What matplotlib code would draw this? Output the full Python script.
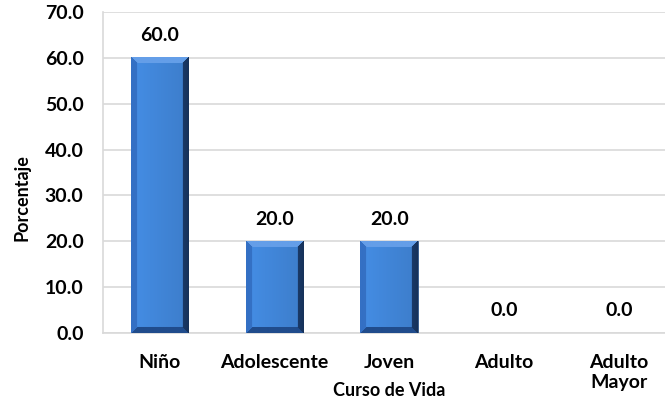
import numpy as np
import matplotlib.pyplot as plt

# data
categorias = ['Niño', 'Adolescente', 'Joven', 'Adulto', 'Adulto\nMayor']
porcentaje = [60.0, 20.0, 20.0, 0.0, 0.0]
yticks = [0, 10, 20, 30, 40, 50, 60, 70]

plt.rcParams['font.family'] = ['Lato', 'DejaVu Sans']
plt.rcParams['font.weight'] = 'bold'


def bevel_image(wpx, hpx):
    # rough imitation of the bevelled excel bars
    base = np.array([66, 136, 220]) / 255
    left = np.array([52, 112, 196]) / 255
    right = np.array([26, 58, 105]) / 255
    top = np.array([100, 158, 232]) / 255
    bottom = np.array([32, 76, 140]) / 255
    bw = 6.5
    yy, xx = np.mgrid[0:hpx, 0:wpx]
    dl = xx + 0.5
    dr = wpx - xx - 0.5
    dt = yy + 0.5
    db = hpx - yy - 0.5
    # face gets a soft left-to-right shading
    t = (xx / max(wpx - 1, 1))[..., None]
    img = base * (1.04 - 0.12 * t)
    d = np.stack([dl, dr, dt, db])
    which = d.argmin(axis=0)
    near = d.min(axis=0) < bw
    depth = (d.min(axis=0) / bw)[..., None]
    for k, c in enumerate([left, right, top, bottom]):
        m = (which == k) & near
        shade = c * (0.85 + 0.15 * depth) if k == 1 else c
        img[m] = shade[m] if shade.ndim == 3 else shade
    return np.clip(img, 0, 1)


fig = plt.figure(figsize=(6.65, 4.03), dpi=100)
ax = fig.add_axes([103 / 665, (403 - 333) / 403, 1 - 103 / 665, (333 - 12) / 403])

x = np.arange(len(categorias))
ax.set_xlim(-0.49, 4.40)
ax.set_ylim(0, 70)
bars = ax.bar(x, porcentaje, width=0.5, color='#4288dc', edgecolor='#2a4f80',
              linewidth=0.6, zorder=3)

for b in bars:
    h = b.get_height()
    if h <= 0:
        continue
    p0 = ax.transData.transform((b.get_x(), 0))
    p1 = ax.transData.transform((b.get_x() + b.get_width(), h))
    wpx = int(round(p1[0] - p0[0]))
    hpx = int(round(p1[1] - p0[1]))
    ax.imshow(bevel_image(wpx, hpx), aspect='auto', interpolation='bilinear',
              extent=(b.get_x(), b.get_x() + b.get_width(), 0, h), zorder=3.5)

ax.set_xlim(-0.49, 4.40)
ax.set_ylim(0, 70)

for xi, v in zip(x, porcentaje):
    ax.annotate(f'{v:.1f}', (xi, v), xytext=(0, 12), textcoords='offset points',
                ha='center', va='baseline', fontsize=14, fontweight='bold')

ax.set_yticks(yticks)
ax.set_yticklabels([f'{t:.1f}' for t in yticks])
ax.set_xticks(x)
ax.set_xticklabels(categorias, linespacing=1.2)
ax.tick_params(axis='both', length=0, labelsize=14)
ax.tick_params(axis='y', pad=14)
ax.tick_params(axis='x', pad=15)
for lab in ax.get_xticklabels() + ax.get_yticklabels():
    lab.set_fontweight('bold')
ax.yaxis.grid(True, color='#d9d9d9', linewidth=1.2, zorder=0)
ax.set_axisbelow(True)
for s in ['top', 'right']:
    ax.spines[s].set_visible(False)
ax.spines['left'].set_color('#d9d9d9')
ax.spines['bottom'].set_color('#d9d9d9')
ax.spines['left'].set_linewidth(1.2)
ax.spines['bottom'].set_linewidth(1.2)

fig.text(22 / 665, 1 - 198 / 403, 'Porcentaje', rotation=90, ha='center', va='center',
         fontsize=13, fontweight='bold')
fig.text(389 / 665, 1 - 391 / 403, 'Curso de Vida', ha='center', va='center',
         fontsize=13, fontweight='bold')

fig.savefig('out.png', dpi=100)
